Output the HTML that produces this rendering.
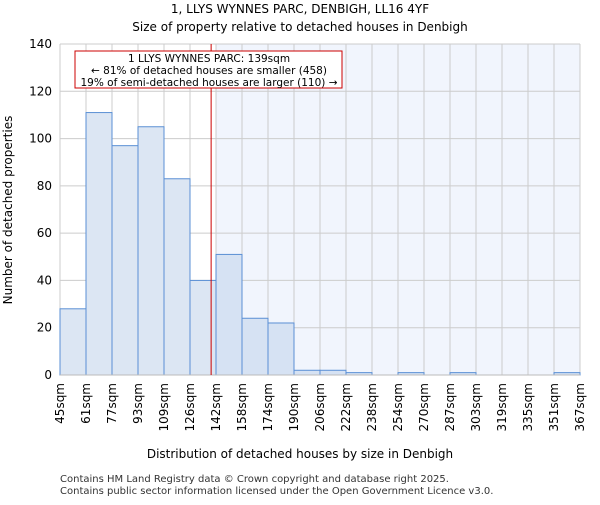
<!DOCTYPE html>
<html><head><meta charset="utf-8"><style>
body{margin:0;background:#fff;font-family:"Liberation Sans","DejaVu Sans",sans-serif}
text{font-family:"DejaVu Sans","Liberation Sans",sans-serif}
</style></head><body>
<svg id="c" width="600" height="500" xmlns="http://www.w3.org/2000/svg">
<text x="300" y="13" font-size="12" text-anchor="middle">1, LLYS WYNNES PARC, DENBIGH, LL16 4YF</text>
<text x="300" y="31" font-size="12" text-anchor="middle">Size of property relative to detached houses in Denbigh</text>
<g id="plot"></g>
<text x="300" y="458" font-size="12" text-anchor="middle">Distribution of detached houses by size in Denbigh</text>
<text transform="translate(12,210) rotate(-90)" font-size="12" text-anchor="middle">Number of detached properties</text>
<text x="60" y="482" font-size="10" fill="#333">Contains HM Land Registry data © Crown copyright and database right 2025.</text>
<text x="60" y="494" font-size="10" fill="#333">Contains public sector information licensed under the Open Government Licence v3.0.</text>
</svg>
<script>
const binLabels=["45sqm","61sqm","77sqm","93sqm","109sqm","126sqm","142sqm","158sqm","174sqm","190sqm","206sqm","222sqm","238sqm","254sqm","270sqm","287sqm","303sqm","319sqm","335sqm","351sqm","367sqm"];
const binEdges=[45,61,77,93,109,126,142,158,174,190,206,222,238,254,270,287,303,319,335,351,367];
const counts=[28,111,97,105,83,40,51,24,22,2,2,1,0,1,0,1,0,0,0,1];
const yTicks=[0,20,40,60,80,100,120,140];
const propertySize=139;
const X0=60,X1=580,Y0=375,Y1=44,YMAX=140;
const NS="http://www.w3.org/2000/svg";
const bw=(X1-X0)/counts.length;
function xi(i){return X0+i*bw;}
function xv(v){let i=0;while(i<binEdges.length-2&&v>binEdges[i+1])i++;return xi(i)+bw*(v-binEdges[i])/(binEdges[i+1]-binEdges[i]);}
function y(v){return Y0-(Y0-Y1)*v/YMAX;}
const g=document.getElementById('plot');
function mk(t,a){const e=document.createElementNS(NS,t);for(const k in a)e.setAttribute(k,a[k]);g.appendChild(e);return e;}
let pi=0;while(pi<counts.length&&binEdges[pi+1]<=propertySize)pi++;
const shadeX=xi(pi+1);
const sh=mk('rect',{x:shadeX,y:Y1,width:X1-shadeX,height:Y0-Y1,fill:'#f1f5fd'});


yTicks.forEach(t=>{
 const l=mk('line',{x1:X0,x2:X1,y1:y(t),y2:y(t),stroke:'#ccc','stroke-width':1});
 
 
 const tx=mk('text',{x:X0-8,y:y(t)+4,'font-size':12,'text-anchor':'end'});tx.textContent=t;
 
 
});
binLabels.forEach((s,i)=>{
 const l=mk('line',{x1:xi(i),x2:xi(i),y1:Y1,y2:Y0,stroke:'#ccc','stroke-width':1});
 
 
 const tx=mk('text',{transform:`translate(${xi(i)+4},${Y0+8}) rotate(-90)`,'font-size':12,'text-anchor':'end'});tx.textContent=s;
 
 
});
counts.forEach((c,i)=>{
 const r=mk('rect',{x:xi(i),y:y(c),width:bw,height:Y0-y(c),fill:i>pi?'#d6e2f3':'#dce6f3',stroke:'#5a8fd4','stroke-width':1});
 
 
});
const ax=mk('line',{x1:X0,x2:X1,y1:Y0,y2:Y0,stroke:'#bbb'});


const px=xv(propertySize);
const ml=mk('line',{x1:px,x2:px,y1:Y1,y2:Y0,stroke:'#c00','stroke-width':1});


const bx=mk('rect',{x:75,y:51,width:267,height:37,fill:'#fff',stroke:'#c00','stroke-width':1});


["1 LLYS WYNNES PARC: 139sqm","← 81% of detached houses are smaller (458)","19% of semi-detached houses are larger (110) →"].forEach((s,i)=>{
 const t=mk('text',{x:209,y:62+i*12,'font-size':10.5,'text-anchor':'middle'});t.textContent=s;
 
 
});
</script>
</body></html>
